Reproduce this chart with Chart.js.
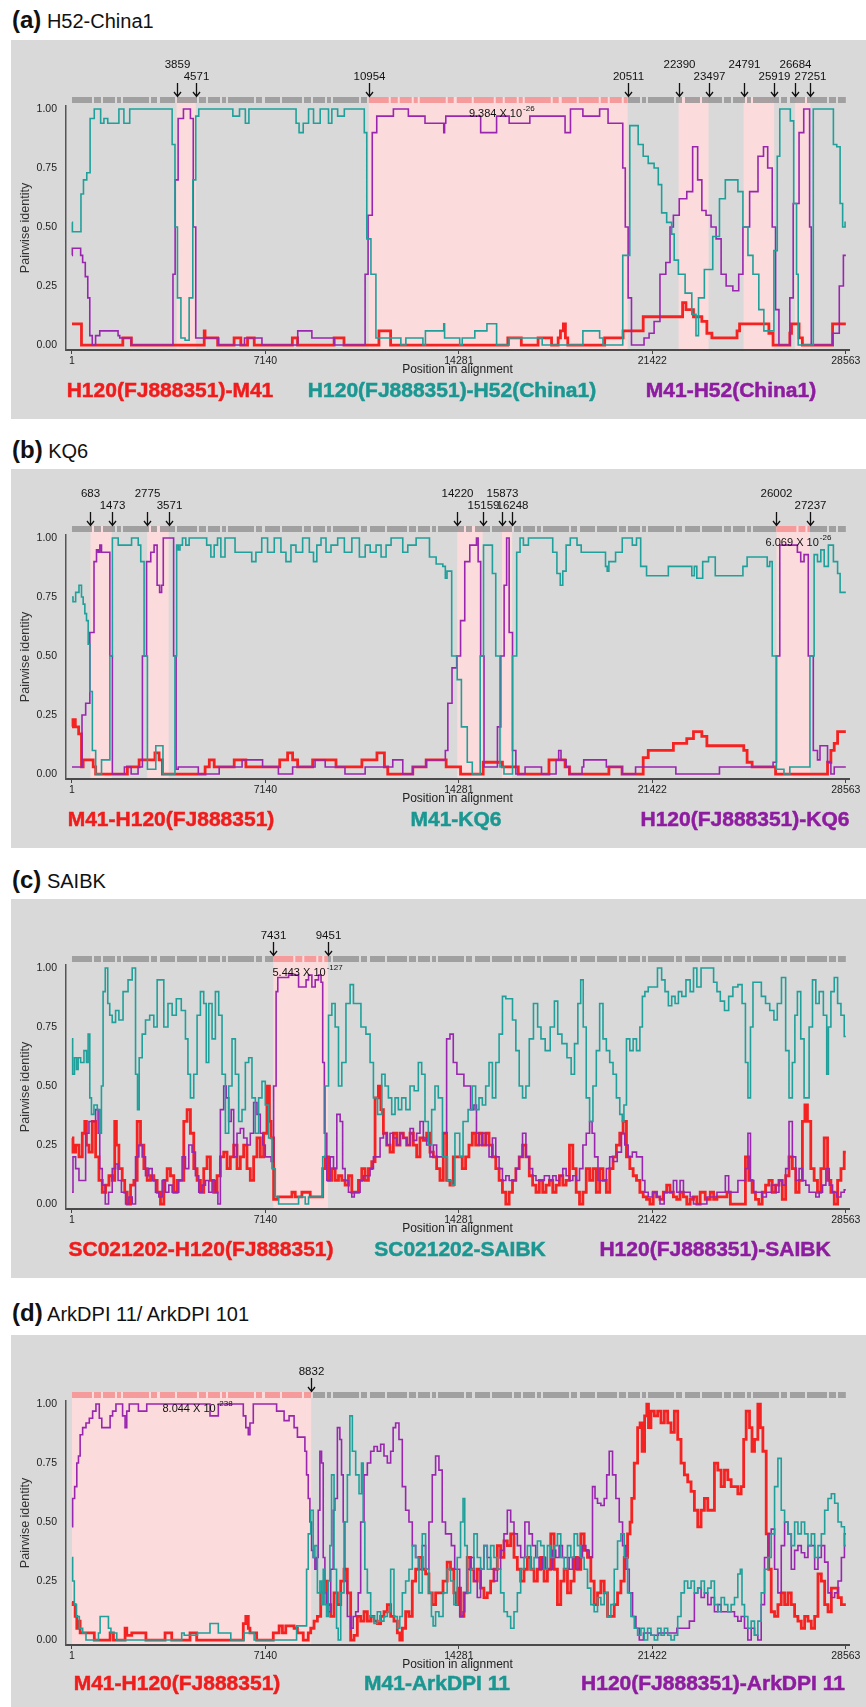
<!DOCTYPE html>
<html><head><meta charset="utf-8">
<script src="https://cdn.jsdelivr.net/npm/chart.js@4.4.1/dist/chart.umd.min.js"></script>
<style>
html,body{margin:0;padding:0;background:#fff}
body{width:866px;height:1707px;position:relative;overflow:hidden;font-family:'Liberation Sans',Arial,sans-serif}
.ttl{position:absolute;left:12px;font-size:20px;line-height:24px;color:#111;white-space:nowrap}
.ttl b{font-size:24px}
.box{position:absolute;left:11px;width:855px;background:#d9d9d9}
.box canvas{position:absolute;left:0;top:0}
.leg{position:absolute;transform:translate(-50%,-50%);font-weight:bold;font-size:21px;white-space:nowrap;line-height:24px;-webkit-text-stroke:0.5px currentColor}
</style></head>
<body>
<div class="ttl" style="top:8px"><b>(a)</b> H52-China1</div>
<div class="box" style="top:40px;height:379px"><canvas id="ca" width="855" height="379"></canvas>
<div class="leg" style="left:159px;top:350px;color:#f01c1c">H120(FJ888351)-M41</div>
<div class="leg" style="left:441px;top:350px;color:#1b9792">H120(FJ888351)-H52(China1)</div>
<div class="leg" style="left:720px;top:350px;color:#8e1ca0">M41-H52(China1)</div></div>

<div class="ttl" style="top:438px"><b>(b)</b> KQ6</div>
<div class="box" style="top:469px;height:379px"><canvas id="cb" width="855" height="379"></canvas>
<div class="leg" style="left:160px;top:350px;color:#f01c1c">M41-H120(FJ888351)</div>
<div class="leg" style="left:445px;top:350px;color:#1b9792">M41-KQ6</div>
<div class="leg" style="left:734px;top:350px;color:#8e1ca0">H120(FJ888351)-KQ6</div></div>

<div class="ttl" style="top:868px"><b>(c)</b> SAIBK</div>
<div class="box" style="top:899px;height:379px"><canvas id="cc" width="855" height="379"></canvas>
<div class="leg" style="left:190px;top:350px;color:#f01c1c">SC021202-H120(FJ888351)</div>
<div class="leg" style="left:449px;top:350px;color:#1b9792">SC021202-SAIBK</div>
<div class="leg" style="left:704px;top:350px;color:#8e1ca0">H120(FJ888351)-SAIBK</div></div>

<div class="ttl" style="top:1301px"><b>(d)</b> ArkDPI 11/ ArkDPI 101</div>
<div class="box" style="top:1335px;height:372px"><canvas id="cd" width="855" height="372"></canvas>
<div class="leg" style="left:166px;top:348px;color:#f01c1c">M41-H120(FJ888351)</div>
<div class="leg" style="left:426px;top:348px;color:#1b9792">M41-ArkDPI 11</div>
<div class="leg" style="left:702px;top:348px;color:#8e1ca0">H120(FJ888351)-ArkDPI 11</div></div>

<script>
const xTicks = [1, 7140, 14281, 21422, 28563];
const yTicks = [0, 0.25, 0.5, 0.75, 1];

// ---------- panel (a) H52-China1 ----------
const aRed = [[1,0.09],[320,0.09],[382,0],[1855,0],[1900,0.03],[2162,0.03],[2224,0],[4864,0],[4900,0.06],[4925,0.03],[5355,0.03],[5400,0],[5969,0],[6000,0.03],[6215,0.03],[6250,0],[6461,0],[6500,0.03],[6706,0.03],[6750,0],[8118,0],[8150,0.03],[8303,0.03],[8350,0],[9653,0],[9700,0.03],[10021,0.03],[10060,0],[11311,0],[11350,0.06],[11741,0.06],[11780,0],[16075,0],[16100,0.03],[16570,0.03],[16600,0],[17188,0],[17220,0.03],[17683,0.03],[17720,0],[17930,0],[17960,0.03],[18100,0.06],[18177,0.09],[18250,0.03],[18350,0],[19600,0],[19724,0.03],[20280,0.03],[20404,0.06],[21022,0.06],[21146,0.12],[22507,0.12],[22569,0.18],[22754,0.15],[23125,0.12],[23373,0.1],[23496,0.05],[23744,0.03],[24486,0.03],[24610,0.06],[24672,0.09],[25661,0.09],[25785,0.05],[25970,0],[26465,0],[26527,0.05],[26589,0.09],[26775,0.09],[26898,0.03],[27022,0],[28012,0],[28135,0.09],[28563,0.09]];
const aTeal = [[1,0.52],[30,0.48],[320,0.48],[345,0.64],[504,0.70],[590,0.73],[750,0.96],[897,1.0],[1000,1.0],[1118,0.94],[1241,0.96],[1400,0.94],[1671,0.94],[1794,1.0],[2040,0.94],[2224,1.0],[3636,1.0],[3760,0.85],[3845,0.5],[3943,0.2],[4100,0.03],[4250,0.02],[4400,0.2],[4520,0.7],[4618,0.97],[4741,1.0],[5846,1.0],[6030,0.97],[6338,1.0],[6461,0.94],[6600,1.0],[8180,1.0],[8364,0.94],[8401,0.90],[8671,0.94],[8794,1.0],[9039,0.94],[9285,1.0],[9408,1.0],[9531,0.94],[9653,1.0],[9960,0.97],[10145,1.0],[10759,1.0],[10820,0.9],[10943,0.45],[11127,0.3],[11311,0.03],[12109,0.03],[12170,0],[12478,0.03],[12908,0.03],[13000,0],[13092,0.06],[13706,0.06],[13740,0.09],[13767,0.03],[14281,0.03],[14343,0],[14467,0.03],[14838,0.03],[14900,0.06],[15300,0.06],[15332,0.09],[15642,0.09],[15704,0],[16075,0],[16198,0.03],[17312,0.03],[17400,0],[18796,0],[18920,0.06],[19414,0.06],[19538,0.03],[19662,0],[20280,0],[20379,0.38],[20528,0.38],[20651,0.93],[20775,0.93],[21022,0.85],[21146,0.8],[21394,0.77],[21579,0.75],[21703,0.68],[21827,0.56],[22074,0.52],[22197,0.47],[22259,0.36],[22507,0.30],[22754,0.22],[23002,0.13],[23063,0.04],[23187,0.2],[23496,0.32],[23806,0.46],[23991,0.62],[24238,0.70],[24486,0.70],[24672,0.65],[24857,0.5],[25043,0.38],[25228,0.3],[25475,0.15],[25600,0.06],[25846,0.06],[25970,0.4],[26094,0.8],[26156,1.0],[26465,1.0],[26564,0.95],[26713,0.6],[26775,0.3],[26836,0],[27331,0],[27393,1.0],[28073,1.0],[28135,0.85],[28321,0.84],[28383,0.6],[28507,0.5],[28563,0.52]];
const aPurple = [[1,0.38],[26,0.41],[296,0.41],[345,0.38],[443,0.35],[541,0.29],[627,0.2],[689,0.04],[811,0],[934,0.04],[1118,0.06],[1671,0.06],[1733,0.04],[1794,0.03],[2162,0.03],[2224,0],[3697,0],[3759,0.3],[3857,0.7],[3980,0.96],[4250,1.0],[4311,1.0],[4434,0.96],[4520,0.5],[4618,0.03],[5355,0.03],[5478,0],[6338,0],[6400,0.03],[6951,0.03],[7074,0],[8303,0],[8364,0.06],[8794,0.06],[8916,0.03],[9653,0.03],[9715,0],[10759,0],[10881,0.3],[10979,0.55],[11188,0.9],[11311,0.97],[11802,0.97],[11925,1.0],[12355,1.0],[12478,0.97],[12969,0.97],[13092,0.94],[13706,0.94],[13740,0.90],[13767,0.94],[13828,0.97],[14281,0.97],[14838,0.97],[15332,0.90],[15642,0.90],[15704,0.97],[16075,0.97],[16198,0.94],[16800,0.94],[17000,0.97],[18100,0.97],[18300,0.90],[18500,1.0],[18796,1.0],[18920,0.97],[19414,0.97],[19538,1.0],[19724,1.0],[19850,0.94],[20280,0.94],[20379,0.75],[20466,0.5],[20590,0.2],[20713,0],[21022,0],[21208,0.03],[21394,0.05],[21579,0.1],[21827,0.3],[22012,0.35],[22136,0.5],[22259,0.55],[22569,0.62],[22816,0.65],[23002,0.84],[23187,0.7],[23311,0.57],[23496,0.55],[23682,0.5],[23867,0.45],[24053,0.30],[24238,0.25],[24548,0.23],[24672,0.3],[24857,0.5],[25167,0.65],[25475,0.8],[25574,0.84],[25785,0.75],[25908,0.5],[26032,0.15],[26156,0],[26465,0],[26527,0.2],[26713,0.6],[26960,0.9],[27059,1.0],[27208,1.0],[27245,0.5],[27331,0],[28012,0],[28135,0.05],[28259,0.05],[28383,0.25],[28563,0.38]];
const aRegions = [[3859,4571],[10954,20511],[22390,23497],[24791,25919],[26684,27251]];
const aMain = [10954,20511];
const aArrows = [3859,4571,10954,20511,22390,23497,24791,25919,26684,27251];
const aArrowUpper = [1,0,0,0,1,0,1,0,1,0];
const aNote = ['9.384 X 10', '-26', 14650];

// ---------- panel (b) KQ6 ----------
const bRed = [[1,0.2],[75,0.23],[173,0.2],[321,0.17],[383,0.03],[445,0.06],[752,0.06],[814,0.03],[937,0],[1923,0],[2169,0.03],[2416,0.03],[2539,0.06],[2970,0.06],[3155,0.09],[3278,0.06],[3401,0],[4880,0],[4950,0.03],[5188,0.06],[5311,0.03],[5927,0.03],[6050,0.06],[6358,0.06],[6481,0.03],[6974,0.03],[7500,0.03],[7836,0.06],[8083,0.09],[8206,0.06],[8452,0.03],[8822,0.03],[8945,0.06],[9684,0.06],[9808,0.03],[10670,0.03],[10732,0.06],[11224,0.06],[11290,0.09],[11471,0.09],[11594,0.03],[11717,0],[12518,0],[12641,0.03],[13011,0.03],[13134,0.06],[13750,0.06],[13874,0.03],[14281,0.03],[14405,0],[15024,0],[15332,0.05],[15827,0.05],[15950,0.03],[16446,0.03],[16500,0],[17312,0],[17900,0.06],[18100,0.06],[18301,0.03],[18425,0],[19786,0],[19850,0.03],[20280,0.03],[20330,0],[21022,0],[21146,0.07],[21394,0.1],[22136,0.1],[22259,0.13],[22630,0.13],[22754,0.15],[23125,0.18],[23373,0.16],[23496,0.12],[24734,0.12],[24857,0.1],[24981,0.05],[25228,0.03],[25846,0.03],[26094,0],[27826,0],[27950,0.05],[28073,0.1],[28197,0.13],[28321,0.18],[28563,0.18]];
const bTeal = [[1,0.75],[75,0.73],[198,0.77],[321,0.80],[383,0.75],[445,0.72],[506,0.68],[568,0.65],[629,0.55],[691,0.35],[814,0.1],[937,0],[1060,0],[1122,0.06],[1368,0.06],[1430,0.5],[1553,1.0],[1677,1.0],[1738,0.97],[2169,0.97],[2231,1.0],[2416,1.0],[2477,0.97],[2601,0.9],[2724,0.5],[2847,0.02],[3032,0.02],[3155,0.12],[3340,0.12],[3377,0],[3771,0],[3833,0.5],[3894,0.97],[3956,0.95],[4017,0.97],[4140,1.0],[4264,0.97],[4387,1.0],[4880,1.0],[5064,0.97],[5188,0.92],[5311,0.97],[5434,1.0],[5557,0.92],[5742,1.0],[5927,1.0],[6112,0.94],[6605,0.94],[6666,0.9],[6913,0.94],[7097,1.0],[7344,0.94],[7590,1.0],[7836,0.94],[7960,0.9],[8206,0.97],[8329,0.94],[8699,1.0],[8822,0.94],[9007,0.9],[9069,0.97],[9315,1.0],[9438,0.94],[9684,0.97],[9931,1.0],[10177,0.94],[10485,1.0],[10732,0.92],[10916,0.97],[11101,0.94],[11348,0.97],[11471,0.92],[11717,0.97],[11840,1.0],[12148,1.0],[12272,0.94],[12518,0.97],[12888,1.0],[13134,1.0],[13257,0.92],[13627,0.89],[13750,0.88],[13812,0.83],[13874,0.86],[14157,0.5],[14281,0.4],[14467,0.2],[14714,0.05],[14838,0],[15024,0],[15110,0.5],[15270,0.97],[15456,0.97],[15580,0.85],[15704,0.5],[15890,0.03],[16000,0],[16198,0],[16322,0.5],[16508,0.94],[16570,1.0],[16756,0.97],[16940,1.0],[17683,1.0],[17807,0.94],[17992,0.85],[18054,0.8],[18177,0.86],[18301,0.97],[18487,1.0],[18610,1.0],[18672,0.97],[18920,0.94],[19662,0.94],[19724,0.88],[19786,0.86],[19848,0.9],[20280,0.94],[20342,1.0],[20651,1.0],[20713,0.97],[20960,1.0],[21022,0.88],[21394,0.84],[21950,0.84],[22074,0.88],[22816,0.88],[22940,0.84],[23002,0.88],[23125,0.83],[23434,0.9],[23558,0.92],[23682,0.92],[23806,0.84],[24734,0.84],[24795,0.88],[25043,0.92],[25600,0.92],[25723,0.88],[25785,0.9],[25908,0.5],[26094,0.02],[26465,0],[26527,0.03],[27146,0.03],[27331,0.5],[27455,0.93],[27578,0.9],[27702,0.95],[27826,0.88],[28012,0.97],[28197,0.9],[28321,0.85],[28383,0.77],[28563,0.77]];
const bPurple = [[1,0.03],[297,0.03],[445,0.25],[568,0.3],[752,0.6],[876,0.9],[937,0.95],[999,0.94],[1060,0.97],[1120,0.94],[1368,0.94],[1430,0.5],[1553,0],[1923,0],[1950,0.03],[2169,0.03],[2200,0],[2400,0],[2480,0.03],[2539,0.03],[2662,0.5],[2847,0.9],[2970,0.94],[3093,0.97],[3192,0.8],[3278,0.77],[3340,0.8],[3401,1.0],[3709,1.0],[3795,0.5],[3894,0.02],[3950,0.03],[4633,0.03],[4695,0],[5373,0],[5496,0.03],[6200,0.03],[6358,0.06],[6974,0.06],[7097,0.03],[7590,0.03],[7650,0],[8083,0],[8206,0.03],[8945,0.03],[9000,0.06],[9315,0.06],[9380,0.03],[10054,0.03],[10100,0],[10793,0],[10850,0.03],[11779,0.03],[11902,0.06],[12148,0.06],[12272,0],[12518,0],[12641,0.03],[13011,0.03],[13134,0.06],[13750,0.06],[13812,0.1],[13935,0.3],[14120,0.45],[14281,0.5],[14405,0.65],[14590,0.9],[14776,0.97],[14900,0.97],[14961,1.0],[15023,0.9],[15147,0.5],[15271,0.03],[15642,0.03],[15765,0.2],[15889,0.5],[16013,0.8],[16075,1.0],[16198,0.6],[16322,0.1],[16446,0],[16693,0],[16755,0.03],[17312,0.03],[17350,0],[17806,0],[17930,0.06],[18000,0.1],[18100,0.06],[18177,0.06],[18301,0.03],[18425,0],[18796,0],[18858,0.03],[18920,0.06],[19662,0.06],[19786,0.03],[20280,0.03],[20330,0],[20775,0],[20830,0.03],[22259,0.03],[22320,0],[23867,0],[23930,0.03],[25785,0.03],[25970,0.05],[26032,0.5],[26218,0.97],[26713,0.97],[26836,0.94],[26960,0.9],[27084,0.93],[27270,0.5],[27455,0.1],[27579,0.06],[27641,0.12],[27826,0.12],[27950,0.05],[28073,0],[28197,0.03],[28563,0.03]];
const bRegions = [[683,1473],[2775,3571],[14220,15159],[15873,16248],[26002,27237]];
const bMain = [26002,27237];
const bArrows = [683,1473,2775,3571,14220,15159,15873,16248,26002,27237];
const bArrowUpper = [1,0,1,0,1,0,1,0,1,0];
const bNote = ['6.069 X 10', '-26', 25600];

// ---------- panel (c) SAIBK ----------
const cRed = [[1,0.28],[75,0.22],[197,0.25],[320,0.2],[443,0.3],[504,0.35],[566,0.25],[689,0.22],[811,0.35],[934,0.2],[1057,0.1],[1180,0.05],[1303,0.08],[1425,0.12],[1548,0.1],[1610,0.35],[1671,0.25],[1794,0.15],[1917,0.1],[1978,0.05],[2101,0],[2224,0.08],[2346,0.1],[2469,0.35],[2592,0.25],[2715,0.15],[2838,0.1],[2960,0.12],[3083,0.1],[3206,0.05],[3329,0],[3452,0.1],[3574,0.15],[3697,0.12],[3820,0.05],[3943,0.1],[4066,0.1],[4188,0.35],[4311,0.4],[4434,0.3],[4557,0.15],[4680,0.1],[4802,0.05],[4925,0.15],[5048,0.2],[5171,0.1],[5294,0.05],[5417,0.12],[5539,0.2],[5662,0.22],[5785,0.15],[5908,0.2],[6030,0.25],[6153,0.15],[6276,0.2],[6399,0.25],[6521,0.15],[6644,0.1],[6767,0.2],[6890,0.28],[7013,0.2],[7136,0.3],[7258,0.5],[7320,0.35],[7381,0.28],[7504,0.02],[7688,0.03],[8057,0.03],[8180,0.05],[8303,0.03],[8671,0.05],[8916,0.03],[9224,0.03],[9285,0.15],[9408,0.2],[9531,0.1],[9653,0.15],[9776,0.1],[9899,0.12],[10021,0.1],[10144,0.08],[10267,0.12],[10390,0.05],[10513,0.05],[10635,0.1],[10758,0.15],[10881,0.1],[11004,0.15],[11127,0.18],[11249,0.45],[11372,0.5],[11434,0.4],[11556,0.3],[11679,0.25],[11802,0.22],[11925,0.3],[12048,0.25],[12170,0.3],[12293,0.28],[12416,0.25],[12539,0.3],[12662,0.25],[12784,0.2],[12907,0.28],[13030,0.27],[13153,0.3],[13276,0.22],[13399,0.2],[13521,0.15],[13644,0.1],[13767,0.3],[13890,0.1],[14013,0.08],[14135,0.2],[14281,0.2],[14343,0.2],[14467,0.15],[14590,0.2],[14714,0.25],[14838,0.3],[14961,0.25],[15085,0.3],[15209,0.25],[15332,0.3],[15456,0.25],[15580,0.2],[15704,0.15],[15827,0.1],[15951,0.05],[16075,0],[16198,0.05],[16322,0.1],[16446,0.15],[16569,0.2],[16693,0.25],[16817,0.2],[16941,0.12],[17065,0.08],[17188,0.05],[17312,0.1],[17436,0.05],[17559,0.08],[17683,0.1],[17807,0.05],[17930,0.08],[18054,0.12],[18177,0.08],[18301,0.1],[18425,0.25],[18549,0.15],[18672,0.05],[18796,0],[18920,0.05],[19043,0.15],[19167,0.1],[19291,0.15],[19415,0.05],[19538,0.15],[19662,0.1],[19786,0.05],[19910,0.15],[20033,0.2],[20157,0.25],[20281,0.3],[20404,0.35],[20528,0.2],[20652,0.15],[20775,0.12],[20899,0.1],[21023,0.05],[21146,0.03],[21270,0.02],[21394,0],[21518,0.05],[21641,0.03],[21765,0.02],[21889,0.05],[22012,0.08],[22136,0.05],[22259,0.03],[22383,0.02],[22507,0.05],[22631,0.03],[22755,0],[22878,0.02],[23002,0.03],[23126,0],[23250,0.05],[23497,0.02],[23621,0.05],[23744,0.02],[23868,0.03],[24115,0.03],[24239,0.05],[24363,0],[24796,0],[24919,0.2],[25043,0.1],[25167,0.05],[25290,0.02],[25414,0],[25538,0.05],[25662,0.08],[25785,0.1],[25909,0.05],[26032,0.08],[26156,0.1],[26280,0.02],[26404,0.12],[26527,0.2],[26651,0.15],[26775,0.05],[26899,0.1],[27022,0.35],[27084,0.42],[27208,0.35],[27331,0.15],[27455,0.1],[27579,0.05],[27703,0.15],[27827,0.28],[27950,0.1],[28074,0.05],[28198,0],[28321,0.1],[28445,0.15],[28563,0.22]];
const cTeal = [[1,0.7],[50,0.55],[136,0.62],[197,0.57],[259,0.62],[382,0.6],[504,0.65],[566,0.6],[627,0.72],[689,0.45],[750,0.38],[873,0.42],[996,0.4],[1057,0.3],[1118,0.5],[1180,0.9],[1278,1.0],[1364,0.85],[1425,0.8],[1548,0.77],[1671,0.82],[1794,0.78],[1978,0.9],[2162,0.95],[2285,1.0],[2408,0.55],[2432,0.4],[2531,0.62],[2653,0.72],[2776,0.78],[2960,0.8],[3083,0.75],[3206,0.95],[3329,0.95],[3452,0.75],[3636,0.85],[3759,0.8],[3943,0.87],[4127,0.82],[4250,0.7],[4311,0.55],[4434,0.45],[4557,0.55],[4680,0.8],[4802,0.9],[4925,0.85],[4987,0.6],[5110,0.85],[5233,0.7],[5355,0.9],[5478,0.8],[5601,0.55],[5724,0.3],[5846,0.5],[5969,0.7],[6092,0.55],[6215,0.35],[6338,0.4],[6461,0.6],[6583,0.62],[6706,0.45],[6829,0.3],[6952,0.45],[7074,0.52],[7197,0.42],[7320,0.28],[7443,0.15],[7566,0.03],[7688,0],[8303,0],[8425,0.03],[8548,0.03],[8671,0],[8794,0.03],[9224,0.03],[9285,0.2],[9408,0.5],[9531,0.8],[9653,0.85],[9776,0.75],[9899,0.5],[10021,0.6],[10205,0.85],[10328,0.93],[10451,0.85],[10574,0.85],[10758,0.75],[10942,0.72],[11065,0.6],[11188,0.45],[11372,0.38],[11495,0.55],[11618,0.5],[11741,0.45],[11863,0.38],[11986,0.45],[12109,0.4],[12232,0.45],[12416,0.4],[12539,0.5],[12723,0.48],[12846,0.6],[12969,0.55],[13092,0.35],[13214,0.25],[13337,0.4],[13460,0.5],[13583,0.45],[13767,0.2],[13951,0.1],[14074,0.08],[14197,0.3],[14281,0.3],[14343,0.2],[14528,0.35],[14714,0.4],[14838,0.5],[14961,0.4],[15085,0.45],[15209,0.42],[15332,0.5],[15456,0.6],[15580,0.45],[15704,0.6],[15827,0.72],[15951,0.88],[16075,0.87],[16198,0.87],[16322,0.78],[16446,0.65],[16569,0.5],[16693,0.45],[16817,0.5],[16941,0.7],[17126,0.85],[17250,0.75],[17373,0.7],[17559,0.65],[17745,0.75],[17868,0.86],[17992,0.72],[18177,0.68],[18363,0.62],[18487,0.55],[18611,0.68],[18734,0.85],[18821,0.95],[18920,0.75],[19043,0.45],[19167,0.35],[19291,0.5],[19415,0.65],[19538,0.85],[19662,0.7],[19786,0.65],[19910,0.6],[20033,0.55],[20157,0.45],[20281,0.38],[20342,0.35],[20404,0.42],[20528,0.7],[20652,0.65],[20775,0.7],[20899,0.65],[21023,0.75],[21085,0.88],[21208,0.9],[21332,0.92],[21518,0.92],[21703,1.0],[21827,0.95],[21951,0.9],[22075,0.84],[22198,0.88],[22322,0.85],[22446,0.9],[22569,0.88],[22755,0.95],[22879,0.9],[23003,1.0],[23126,0.92],[23312,1.0],[23621,1.0],[23744,0.94],[23868,0.9],[23992,0.86],[24177,0.82],[24301,0.88],[24487,0.92],[24672,0.93],[24796,0.85],[24919,0.6],[24981,0.45],[25105,0.75],[25167,0.94],[25353,0.94],[25538,0.88],[25662,0.85],[25847,0.82],[25971,0.78],[26095,0.85],[26280,0.96],[26404,0.65],[26527,0.45],[26651,0.6],[26713,0.8],[26837,0.9],[26961,0.7],[27084,0.45],[27146,0.45],[27270,0.75],[27394,0.95],[27517,0.85],[27641,0.9],[27827,0.8],[27889,0.55],[27950,0.75],[28074,0.9],[28198,0.96],[28321,0.85],[28445,0.8],[28563,0.71]];
const cPurple = [[1,0.05],[75,0.2],[197,0.15],[320,0.1],[443,0.1],[566,0.3],[689,0.35],[811,0.35],[934,0.4],[996,0.3],[1057,0.15],[1180,0.08],[1278,0],[1425,0.05],[1548,0.15],[1671,0.17],[1733,0.1],[1917,0.05],[2040,0],[2162,0.03],[2285,0],[2408,0.2],[2531,0.25],[2653,0.2],[2776,0.12],[2899,0.15],[3022,0.1],[3145,0.05],[3267,0.03],[3390,0.1],[3513,0.05],[3636,0.08],[3759,0.05],[3881,0.05],[4004,0.1],[4127,0.2],[4250,0.15],[4373,0.25],[4495,0.22],[4618,0.12],[4741,0.05],[4864,0.08],[4987,0.1],[5110,0.05],[5233,0.1],[5355,0.05],[5417,0],[5539,0.4],[5662,0.5],[5724,0.45],[5846,0.35],[5908,0.4],[6030,0.2],[6153,0.3],[6276,0.32],[6399,0.28],[6521,0.25],[6644,0.3],[6767,0.43],[6890,0.38],[7013,0.3],[7074,0.25],[7197,0.2],[7320,0.2],[7381,0.18],[7504,0.5],[7566,0.9],[7627,0.96],[7934,0.96],[8057,0.97],[8303,0.97],[8425,0.92],[8610,0.92],[8671,0.95],[8794,0.97],[8916,0.92],[9039,0.95],[9162,0.97],[9224,0.94],[9285,0.6],[9346,0.3],[9469,0.1],[9592,0.2],[9715,0.15],[9837,0.38],[9960,0.35],[10021,0.15],[10144,0.1],[10267,0.05],[10390,0.03],[10451,0.05],[10574,0.05],[10697,0.1],[10820,0.12],[10942,0.12],[11065,0.15],[11188,0.2],[11311,0.2],[11434,0.28],[11556,0.3],[11679,0.25],[11802,0.3],[11925,0.28],[12048,0.25],[12170,0.3],[12293,0.28],[12416,0.25],[12539,0.32],[12662,0.27],[12784,0.3],[12907,0.35],[13030,0.28],[13153,0.25],[13276,0.2],[13399,0.25],[13521,0.2],[13644,0.2],[13767,0.3],[13890,0.7],[14013,0.72],[14135,0.6],[14281,0.55],[14405,0.55],[14528,0.5],[14652,0.5],[14776,0.4],[14900,0.42],[14961,0.3],[15085,0.25],[15209,0.3],[15332,0.25],[15456,0.2],[15580,0.28],[15704,0.2],[15827,0.15],[15951,0.1],[16075,0.12],[16198,0.1],[16322,0.1],[16446,0.15],[16569,0.2],[16693,0.3],[16817,0.2],[16941,0.15],[17065,0.12],[17188,0.1],[17312,0.1],[17559,0.12],[17683,0.1],[17807,0.12],[17930,0.1],[18054,0.12],[18177,0.15],[18301,0.12],[18425,0.1],[18549,0.12],[18672,0.1],[18796,0.15],[18920,0.25],[19043,0.3],[19167,0.35],[19229,0.3],[19353,0.2],[19476,0.1],[19662,0.1],[19786,0.15],[19910,0.2],[20033,0.18],[20219,0.22],[20342,0.3],[20466,0.25],[20590,0.2],[20775,0.22],[20899,0.2],[21023,0.2],[21085,0.1],[21208,0.05],[21332,0.03],[21518,0.05],[21641,0.03],[21765,0],[21951,0.05],[22136,0.05],[22259,0.1],[22384,0.05],[22507,0.1],[22631,0.05],[22755,0.05],[22879,0.03],[23003,0],[23373,0],[23497,0.03],[23744,0.03],[23868,0.05],[24053,0.05],[24177,0.12],[24301,0.05],[24487,0.05],[24672,0.1],[24796,0.1],[24919,0.15],[24981,0.3],[25105,0.1],[25228,0.05],[25414,0.05],[25538,0.03],[25723,0.05],[25908,0.08],[26032,0.05],[26156,0.1],[26280,0.08],[26404,0.15],[26527,0.35],[26651,0.2],[26775,0.1],[26899,0.15],[27022,0.1],[27146,0.08],[27270,0.05],[27394,0.05],[27517,0.03],[27641,0.05],[27765,0.08],[27889,0.15],[28012,0.08],[28135,0.05],[28321,0.03],[28445,0.05],[28563,0.06]];
const cRegions = [[7431,9451]];
const cMain = [7431,9451];
const cArrows = [7431,9451];
const cArrowUpper = [0,0];
const cNote = ['5.443 X 10', '-127', 7400];

// ---------- panel (d) ArkDPI 11 / ArkDPI 101 ----------
const dRed = [[1,0.16],[87,0.15],[148,0.1],[210,0.05],[271,0.08],[333,0.03],[763,0.03],[886,0],[1377,0],[1439,0.03],[1623,0],[1930,0],[1992,0.05],[2053,0.02],[2361,0.03],[2668,0.03],[2791,0],[3405,0],[3467,0.03],[3651,0.03],[3713,0],[4327,0],[4389,0.03],[4573,0.03],[4634,0],[6293,0],[6355,0.07],[6478,0.1],[6539,0.05],[6601,0.03],[7031,0],[7400,0],[7461,0.03],[7584,0.03],[7707,0.06],[7830,0.03],[7953,0.06],[8137,0.06],[8260,0.05],[8383,0.03],[8690,0],[8752,0.03],[8874,0.05],[8997,0.08],[9120,0.1],[9243,0.2],[9366,0.25],[9489,0.15],[9612,0.1],[9735,0.2],[9858,0.15],[9981,0.25],[10103,0.3],[10226,0.2],[10349,0],[10472,0.02],[10595,0.1],[10718,0.08],[10841,0.12],[10964,0.08],[11087,0.1],[11209,0.08],[11332,0.07],[11455,0.1],[11578,0.12],[11701,0.15],[11824,0.1],[11947,0.08],[12070,0.03],[12131,0],[12254,0.05],[12377,0.12],[12500,0.1],[12623,0.25],[12746,0.3],[12868,0.35],[12991,0.3],[13114,0.28],[13237,0.2],[13360,0.15],[13483,0.2],[13606,0.2],[13787,0.25],[13910,0.33],[14034,0.3],[14157,0.2],[14219,0.15],[14281,0.22],[14404,0.1],[14528,0.2],[14651,0.35],[14774,0.3],[14898,0.25],[15021,0.3],[15144,0.22],[15267,0.18],[15391,0.2],[15514,0.25],[15637,0.3],[15761,0.4],[15884,0.35],[16007,0.42],[16131,0.4],[16254,0.45],[16377,0.35],[16500,0.3],[16624,0.25],[16747,0.3],[16870,0.35],[16994,0.3],[17117,0.25],[17240,0.3],[17364,0.35],[17487,0.25],[17610,0.3],[17733,0.45],[17857,0.3],[17980,0.15],[18103,0.25],[18227,0.3],[18350,0.2],[18473,0.25],[18597,0.35],[18720,0.3],[18843,0.45],[18966,0.38],[19090,0.35],[19213,0.25],[19336,0.15],[19460,0.2],[19583,0.25],[19706,0.2],[19830,0.1],[19953,0.1],[20076,0.15],[20199,0.2],[20323,0.25],[20446,0.35],[20569,0.45],[20631,0.5],[20693,0.6],[20816,0.75],[20939,0.9],[21001,0.92],[21087,0.8],[21186,0.95],[21248,1.0],[21309,0.9],[21432,0.97],[21556,0.95],[21679,0.97],[21802,0.92],[21926,0.97],[22049,0.92],[22172,0.88],[22296,0.97],[22419,0.85],[22542,0.75],[22665,0.7],[22789,0.67],[22912,0.63],[23035,0.55],[23159,0.48],[23282,0.55],[23405,0.6],[23528,0.55],[23652,0.55],[23775,0.75],[23898,0.72],[24022,0.65],[24145,0.72],[24268,0.68],[24392,0.65],[24515,0.65],[24638,0.62],[24761,0.65],[24823,0.85],[24946,0.97],[25070,0.9],[25131,0.8],[25254,0.85],[25378,1.0],[25440,0.9],[25563,0.8],[25686,0.45],[25748,0.3],[25871,0.12],[25994,0.1],[26117,0.15],[26241,0.2],[26364,0.15],[26487,0.2],[26611,0.15],[26734,0.1],[26857,0.08],[26981,0.05],[27104,0.1],[27227,0.08],[27350,0.05],[27474,0.1],[27597,0.28],[27720,0.25],[27844,0.15],[27967,0.12],[28090,0.22],[28213,0.22],[28337,0.18],[28460,0.15],[28563,0.15]];
const dTeal = [[1,0.35],[50,0.25],[124,0.15],[210,0.1],[333,0.05],[456,0.03],[579,0],[947,0],[1009,0.03],[1070,0.1],[1316,0.1],[1377,0.05],[1500,0.03],[1623,0.03],[1685,0],[4020,0],[4081,0.03],[4204,0.02],[5064,0.03],[5126,0.07],[5372,0.07],[5433,0.03],[6293,0],[6416,0.03],[7031,0],[8260,0],[8321,0.06],[8629,0.06],[8690,0.3],[8752,0.45],[8874,0.55],[8936,0.35],[8997,0.4],[9120,0.2],[9182,0.25],[9243,0.15],[9305,0.3],[9366,0.15],[9427,0.1],[9489,0.25],[9550,0.4],[9612,0.7],[9735,0.3],[9796,0.05],[9858,0],[9981,0.2],[10103,0.5],[10226,0.7],[10288,0.95],[10411,0.8],[10534,0.7],[10657,0.62],[10718,0.75],[10779,0.5],[10841,0.3],[10964,0.2],[11087,0.1],[11209,0.07],[11332,0.12],[11455,0.08],[11578,0.1],[11701,0.12],[11824,0.3],[11947,0.1],[12070,0.05],[12131,0.1],[12254,0.2],[12377,0.25],[12500,0.3],[12623,0.4],[12746,0.35],[12868,0.2],[12991,0.45],[13114,0.3],[13237,0.2],[13299,0.1],[13360,0.06],[13483,0.12],[13606,0.1],[13787,0.2],[13910,0.3],[14034,0.25],[14157,0.15],[14281,0.35],[14404,0.5],[14466,0.6],[14528,0.4],[14651,0.2],[14774,0.3],[14898,0.45],[15021,0.35],[15144,0.3],[15267,0.4],[15391,0.3],[15514,0.4],[15637,0.35],[15761,0.3],[15884,0.2],[16007,0.12],[16131,0.1],[16254,0.05],[16377,0.12],[16500,0.2],[16624,0.3],[16747,0.35],[16870,0.4],[16994,0.3],[17117,0.35],[17240,0.42],[17364,0.4],[17487,0.3],[17610,0.4],[17733,0.35],[17857,0.4],[17980,0.45],[18103,0.35],[18227,0.3],[18350,0.4],[18473,0.35],[18597,0.45],[18720,0.4],[18843,0.35],[18966,0.3],[19090,0.22],[19213,0.15],[19336,0.12],[19460,0.18],[19583,0.15],[19706,0.2],[19830,0.1],[19953,0.15],[20076,0.3],[20199,0.42],[20323,0.45],[20446,0.35],[20569,0.2],[20693,0.1],[20816,0.05],[20939,0.02],[21063,0.05],[21186,0],[21309,0.05],[21432,0.02],[21556,0],[21679,0.05],[21802,0.02],[21926,0.05],[22049,0.02],[22172,0],[22296,0.02],[22419,0.1],[22542,0.2],[22665,0.25],[22789,0.22],[22912,0.25],[23035,0.2],[23159,0.22],[23282,0.25],[23405,0.2],[23528,0.22],[23652,0.25],[23775,0.15],[23898,0.12],[24022,0.18],[24145,0.15],[24268,0.12],[24392,0.15],[24515,0.18],[24638,0.28],[24700,0.3],[24761,0.15],[24885,0.1],[25008,0.05],[25131,0.08],[25254,0.02],[25378,0.08],[25501,0.2],[25624,0.3],[25748,0.35],[25871,0.45],[25994,0.65],[26117,0.77],[26241,0.55],[26364,0.5],[26487,0.45],[26611,0.4],[26734,0.5],[26857,0.45],[26981,0.5],[27104,0.45],[27227,0.4],[27350,0.45],[27474,0.35],[27597,0.4],[27720,0.45],[27844,0.55],[27967,0.6],[28090,0.62],[28213,0.58],[28337,0.5],[28460,0.48],[28563,0.4]];
const dPurple = [[1,0.48],[50,0.6],[148,0.65],[210,0.75],[271,0.78],[333,0.87],[456,0.9],[579,0.92],[702,0.94],[824,0.97],[947,1.0],[1070,0.94],[1132,0.9],[1377,0.9],[1439,0.95],[1562,0.97],[1685,1.0],[1808,1.0],[1930,0.95],[1992,0.9],[2053,0.97],[2176,1.0],[2422,1.0],[2484,0.97],[2729,0.97],[2791,1.0],[5064,1.0],[5126,0.95],[5372,0.95],[5433,1.0],[6293,1.0],[6355,0.95],[6478,0.9],[6539,0.87],[6601,0.92],[6785,1.0],[7523,1.0],[7584,0.97],[7768,0.97],[7891,0.93],[8137,0.95],[8260,0.9],[8383,0.86],[8567,0.86],[8629,0.8],[8690,0.7],[8752,0.6],[8813,0.5],[8874,0.38],[8936,0.35],[8997,0.3],[9059,0.35],[9120,0.55],[9182,0.8],[9243,0.75],[9305,0.35],[9366,0.2],[9427,0.15],[9489,0.12],[9612,0.3],[9673,0.55],[9735,0.6],[9858,0.9],[9919,0.85],[9981,0.7],[10042,0.5],[10103,0.25],[10226,0.1],[10349,0.05],[10411,0.1],[10534,0.12],[10595,0.2],[10718,0.5],[10841,0.7],[10964,0.75],[11087,0.8],[11209,0.82],[11332,0.8],[11455,0.83],[11578,0.78],[11701,0.75],[11824,0.8],[11885,0.9],[12008,0.92],[12131,0.85],[12254,0.65],[12377,0.55],[12500,0.5],[12623,0.4],[12746,0.35],[12868,0.3],[12991,0.4],[13114,0.3],[13237,0.5],[13360,0.7],[13483,0.78],[13606,0.72],[13726,0.5],[13849,0.45],[13972,0.45],[14034,0.4],[14219,0.3],[14404,0.1],[14466,0.12],[14528,0.2],[14651,0.3],[14774,0.35],[14898,0.25],[15021,0.18],[15144,0.3],[15267,0.4],[15391,0.35],[15514,0.3],[15637,0.25],[15761,0.3],[15884,0.38],[16007,0.45],[16131,0.55],[16254,0.5],[16377,0.45],[16500,0.4],[16624,0.35],[16809,0.5],[16932,0.45],[17055,0.4],[17179,0.35],[17302,0.3],[17425,0.35],[17548,0.3],[17672,0.3],[17795,0.38],[17918,0.35],[18042,0.4],[18165,0.35],[18288,0.35],[18412,0.3],[18535,0.35],[18658,0.3],[18782,0.35],[18905,0.4],[19028,0.38],[19151,0.35],[19275,0.65],[19336,0.6],[19460,0.58],[19583,0.57],[19706,0.6],[19768,0.7],[19891,0.8],[20014,0.7],[20138,0.6],[20261,0.5],[20384,0.4],[20508,0.3],[20631,0.2],[20754,0.1],[20878,0.05],[21001,0],[21186,0.03],[21556,0.02],[21741,0.03],[22234,0.03],[22419,0.05],[22665,0.05],[22912,0.08],[23035,0.2],[23159,0.22],[23282,0.18],[23405,0.2],[23528,0.15],[23652,0.18],[23775,0.12],[23898,0.15],[24022,0.12],[24392,0.12],[24515,0.1],[24638,0.08],[24761,0.1],[24885,0.05],[25008,0],[25131,0.05],[25254,0.02],[25378,0],[25501,0.15],[25624,0.35],[25748,0.45],[25871,0.47],[25994,0.3],[26117,0.2],[26241,0.4],[26364,0.5],[26487,0.45],[26611,0.3],[26734,0.38],[26857,0.4],[26981,0.37],[27104,0.35],[27227,0.4],[27350,0.4],[27474,0.3],[27597,0.35],[27720,0.4],[27844,0.33],[27967,0.2],[28090,0.18],[28213,0.2],[28337,0.25],[28460,0.35],[28563,0.45]];
const dRegions = [[1,8832]];
const dMain = [1,8832];
const dArrows = [8832];
const dArrowUpper = [0];
const dNote = ['8.044 X 10', '-238', 3340];

// ---------- drawing ----------
const RED = '#f52222', TEAL = '#20a09a', PURPLE = '#9a26b0';
const FONT = "'Liberation Sans', Arial, sans-serif";
const xy = arr => arr.map(([x, y]) => ({x, y}));

const decor = {
  id: 'decor',
  beforeDraw(chart, args, o) {
    const {ctx, chartArea: ca, scales: {x}} = chart;
    const px = v => x.getPixelForValue(v);
    ctx.save();
    ctx.fillStyle = '#fbdbdb';
    o.regions.forEach(([s, e]) => ctx.fillRect(px(s), ca.top - 9, px(e) - px(s), ca.bottom - ca.top + 8));
    const by = ca.top - 6;
    ctx.lineWidth = 6;
    ctx.setLineDash([20, 2, 7, 2, 12, 2, 4, 2, 26, 2, 6, 3, 15, 2]);
    ctx.strokeStyle = 'rgba(140,140,140,0.75)';
    ctx.beginPath(); ctx.moveTo(px(1), by); ctx.lineTo(px(28563), by); ctx.stroke();
    ctx.fillStyle = '#fbdbdb';
    ctx.fillRect(px(o.main[0]), by - 3, px(o.main[1]) - px(o.main[0]), 6);
    ctx.strokeStyle = '#f59b9b';
    ctx.beginPath(); ctx.moveTo(px(o.main[0]), by); ctx.lineTo(px(o.main[1]), by); ctx.stroke();
    ctx.setLineDash([]);
    ctx.strokeStyle = '#111'; ctx.fillStyle = '#111'; ctx.lineWidth = 1.3;
    ctx.font = '11.5px ' + FONT; ctx.textAlign = 'center'; ctx.textBaseline = 'middle';
    o.arrows.forEach((p, i) => {
      const ax = Math.round(px(p)) + 0.5;
      ctx.beginPath();
      ctx.moveTo(ax, ca.top - 23); ctx.lineTo(ax, ca.top - 10);
      ctx.moveTo(ax - 3.5, ca.top - 14); ctx.lineTo(ax, ca.top - 9.5); ctx.lineTo(ax + 3.5, ca.top - 14);
      ctx.stroke();
      ctx.fillText(String(p), ax, ca.top - (o.upper[i] ? 41 : 29));
    });
    ctx.restore();
  },
  afterDatasetsDraw(chart, args, o) {
    const {ctx, chartArea: ca, scales: {x}} = chart;
    const nx = x.getPixelForValue(o.note[2]);
    ctx.save();
    ctx.fillStyle = '#111'; ctx.textBaseline = 'middle'; ctx.textAlign = 'left';
    ctx.font = '11px ' + FONT;
    ctx.fillText(o.note[0], nx, ca.top + 8);
    const w = ctx.measureText(o.note[0]).width;
    ctx.font = '8px ' + FONT;
    ctx.fillText(o.note[1], nx + w + 1, ca.top + 3);
    ctx.restore();
  }
};

function build(id, H, red, teal, purple, regions, main, arrows, upper, note) {
  const line = (data, color, w) => ({data: xy(data), borderColor: color, borderWidth: w, pointRadius: 0, fill: false, tension: 0, stepped: 'middle'});
  new Chart(document.getElementById(id), {
    type: 'line',
    data: {datasets: [line(teal, TEAL, 1.6), line(purple, PURPLE, 1.6), line(red, RED, 2.8)]},
    options: {
      responsive: false, animation: false, events: [],
      layout: {padding: {top: 66, right: 17, left: 0, bottom: 0}},
      plugins: {legend: {display: false}, tooltip: {enabled: false},
        decor: {regions, main, arrows, upper, note}},
      scales: {
        x: {type: 'linear', min: -220, max: 28680,
          afterBuildTicks: s => { s.ticks = xTicks.map(v => ({value: v})); },
          afterFit: s => { s.height = H - 310; },
          ticks: {autoSkip: false, maxRotation: 0, padding: 1, color: '#222', font: {size: 10.5, family: FONT}, callback: v => String(v)},
          grid: {display: true, drawOnChartArea: false, drawTicks: true, tickLength: 4, color: '#444'},
          border: {display: true, color: '#4a4a4a', width: 2},
          title: {display: true, text: 'Position in alignment', color: '#222', font: {size: 12, family: FONT}, padding: {top: 0, bottom: H - 330 - 7}}},
        y: {min: -0.021, max: 1.013,
          afterBuildTicks: s => { s.ticks = yTicks.map(v => ({value: v})); },
          afterFit: s => { s.width = 55; },
          ticks: {padding: 9, color: '#222', font: {size: 10.5, family: FONT}, callback: v => Number(v).toFixed(2)},
          grid: {display: false, drawTicks: false},
          border: {display: true, color: '#555', width: 1.5},
          title: {display: true, text: 'Pairwise identity', color: '#333', font: {size: 12.5, family: FONT}, padding: {top: 7, bottom: 0}}}
      }
    },
    plugins: [decor]
  });
}

build('ca', 379, aRed, aTeal, aPurple, aRegions, aMain, aArrows, aArrowUpper, aNote);
build('cb', 379, bRed, bTeal, bPurple, bRegions, bMain, bArrows, bArrowUpper, bNote);
build('cc', 379, cRed, cTeal, cPurple, cRegions, cMain, cArrows, cArrowUpper, cNote);
build('cd', 372, dRed, dTeal, dPurple, dRegions, dMain, dArrows, dArrowUpper, dNote);
</script>
</body></html>
